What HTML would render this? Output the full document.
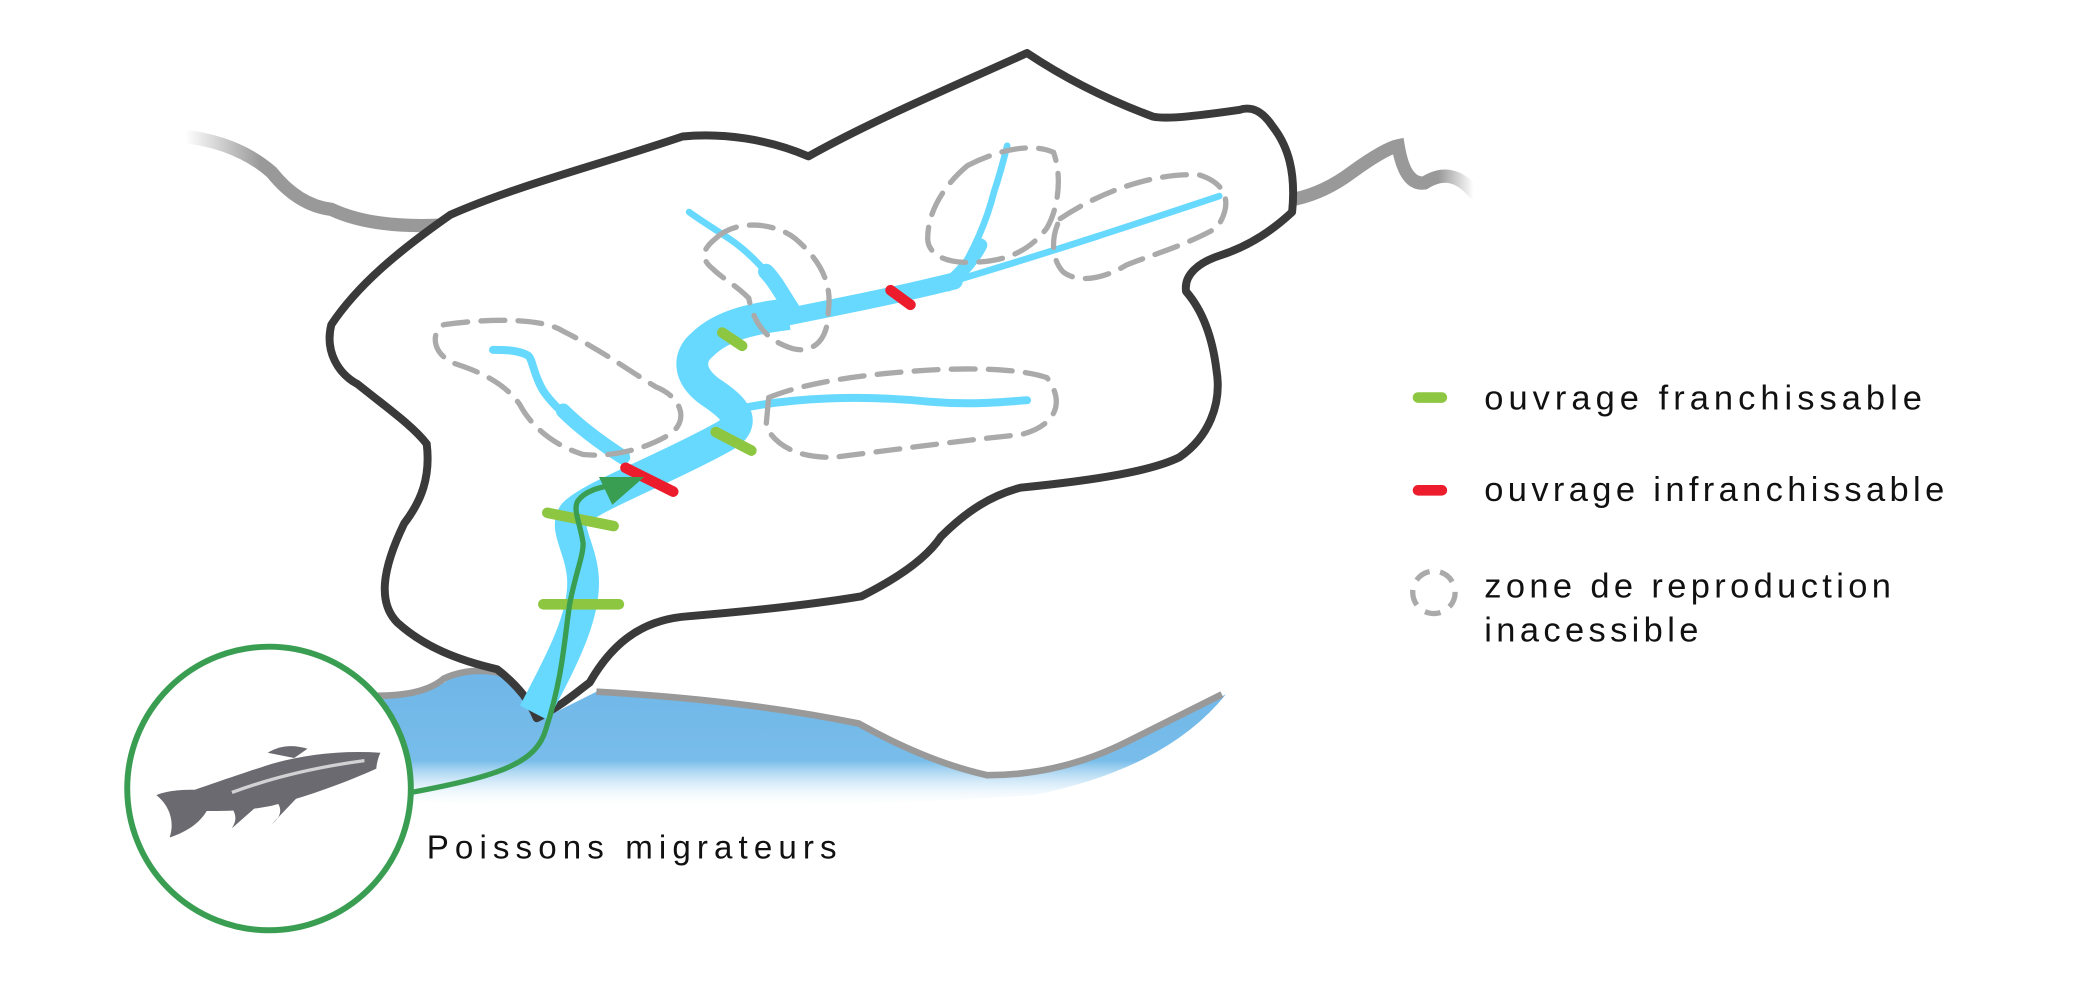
<!DOCTYPE html>
<html><head><meta charset="utf-8"><style>
html,body{margin:0;padding:0;background:#fff;}
svg{display:block;}
text{font-family:"Liberation Sans",sans-serif;fill:#111;}
</style></head><body>
<svg width="2078" height="996" viewBox="0 0 1568 751.6" preserveAspectRatio="none" xmlns="http://www.w3.org/2000/svg">
<defs>
<linearGradient id="sea" x1="0" y1="0" x2="0" y2="1">
<stop offset="0" stop-color="#6fb6e8"/><stop offset="0.65" stop-color="#78bdea"/><stop offset="1" stop-color="#fff" stop-opacity="0"/>
</linearGradient>
<linearGradient id="fadeL" x1="0" y1="0" x2="1" y2="0">
<stop offset="0" stop-color="#999" stop-opacity="0"/><stop offset="0.3" stop-color="#999"/><stop offset="1" stop-color="#999"/>
</linearGradient>
<linearGradient id="fadeR" x1="0" y1="0" x2="1" y2="0">
<stop offset="0" stop-color="#999"/><stop offset="0.8" stop-color="#999"/><stop offset="1" stop-color="#999" stop-opacity="0"/>
</linearGradient>
</defs>
<!-- sea -->
<path d="M285,527 Q322,526 338,513 Q358,504 378,508 L410,542 L450,522 Q560,528 648,546 Q700,575 745,587 Q800,587 850,562 Q890,542 925,524 Q880,580 780,600 Q600,612 420,610 Q330,608 285,600 Z" fill="url(#sea)"/>
<path d="M285,525 Q320,525 335,512 Q355,503 378,508" fill="none" stroke="#999" stroke-width="5"/>
<path d="M450,522 Q560,528 648,546 Q700,575 745,585 Q800,585 850,560 Q890,540 922,524" fill="none" stroke="#999" stroke-width="5"/>
<!-- rivers outside -->
<path d="M140,103 Q180,108 205,130 Q225,155 250,158 Q280,172 330,170" fill="none" stroke="url(#fadeL)" stroke-width="10" stroke-linecap="round"/>
<path d="M978,150 Q1000,145 1020,130 Q1045,112 1055,110 Q1060,140 1075,138 Q1095,125 1112,145" fill="none" stroke="url(#fadeR)" stroke-width="10" stroke-linecap="round"/>
<!-- basin -->
<path d="M775,40 C720,65 660,90 610,118 C580,105 545,100 515,103 C450,125 390,140 340,162 C300,190 270,215 250,245 C245,265 255,282 270,290 C295,310 312,322 322,335 C325,360 318,378 305,395 C288,430 285,455 300,470 C320,488 345,498 375,505 C392,518 400,530 405,542 C425,532 438,520 445,515 C465,480 490,467 520,465 C580,460 620,455 650,450 C680,435 700,420 710,405 C730,385 748,374 770,368 C830,362 870,355 890,345 C912,330 922,305 918,280 C915,255 908,235 895,220 C893,207 905,198 920,193 C945,185 962,172 975,160 C978,130 972,110 960,95 C952,83 944,80 935,83 C900,88 880,90 870,88 C835,75 805,60 775,40 Z" fill="#fff" stroke="#3a3a3a" stroke-width="6" stroke-linejoin="round"/>
<!-- main river -->
<g fill="none" stroke="#67d9ff" stroke-linejoin="round">
<path d="M403,538 C420,505 440,470 440,440 C440,415 425,400 433,388 C445,375 500,355 545,330 C568,318 550,305 535,295 C518,282 520,268 530,260 C545,245 570,240 595,237" stroke-width="24"/>
<path d="M590,240 C640,230 680,222 720,212" stroke-width="13" stroke-linecap="round"/>
<path d="M720,212 C800,188 860,168 920,148" stroke-width="5" stroke-linecap="round"/>
<path d="M468,345 C440,325 420,310 410,295 C402,282 402,270 398,268 C390,264 380,264 372,264" stroke-width="6" stroke-linecap="round"/>
<path d="M470,345 C450,332 435,320 425,310" stroke-width="11" stroke-linecap="round"/>
<path d="M598,232 C580,205 565,190 550,180 C538,172 528,166 520,160" stroke-width="5" stroke-linecap="round"/>
<path d="M598,234 C590,222 585,212 578,205" stroke-width="12" stroke-linecap="round"/>
<path d="M720,212 C735,190 745,165 750,145 C755,130 758,118 760,110" stroke-width="5" stroke-linecap="round"/>
<path d="M715,215 C728,203 735,195 740,185" stroke-width="10" stroke-linecap="round"/>
<path d="M560,308 C600,300 650,298 700,303 C735,306 760,303 775,302" stroke-width="6" stroke-linecap="round"/>
</g>
<!-- dashed zones -->
<g fill="none" stroke="#aaa" stroke-width="4" stroke-dasharray="18,10" stroke-linecap="round">
<path d="M335,245 C370,240 410,240 425,250 C455,265 475,280 495,292 C515,300 520,318 505,328 C485,340 460,345 440,343 C415,335 400,320 392,305 C380,288 360,280 345,275 C325,268 325,250 335,245 Z"/>
<path d="M540,180 C555,165 585,168 600,180 C620,197 628,215 625,235 C625,260 610,268 595,262 C575,255 568,240 565,225 C555,215 545,210 538,203 C528,195 530,188 540,180 Z"/>
<path d="M730,125 C755,112 780,108 795,115 C802,135 798,158 790,172 C775,192 755,198 730,198 C710,198 700,190 700,180 C700,160 712,140 730,125 Z"/>
<path d="M800,165 C830,145 870,130 905,132 C930,140 928,158 918,172 C895,185 870,192 850,200 C830,212 812,213 802,205 C793,195 793,178 800,165 Z"/>
<path d="M580,300 C610,288 650,283 690,280 C730,277 770,278 790,285 C805,305 795,322 770,328 C720,333 670,340 630,345 C600,346 585,335 578,322 Z"/>
</g>
<!-- barriers -->
<g stroke-width="8" stroke-linecap="round">
<line x1="413" y1="387" x2="463" y2="397" stroke="#8dc641"/>
<line x1="410" y1="456" x2="467" y2="456" stroke="#8dc641"/>
<line x1="540" y1="326" x2="567" y2="340" stroke="#8dc641"/>
<line x1="545" y1="251" x2="560" y2="261" stroke="#8dc641"/>
<line x1="472" y1="353" x2="508" y2="371" stroke="#ec1c2c"/>
<line x1="672" y1="219" x2="687" y2="230" stroke="#ec1c2c"/>
</g>
<!-- green arrow -->
<path d="M310,598 C380,585 405,575 412,550 C425,510 426,480 430,455 C435,430 440,420 440,410 C438,395 432,385 436,378 C442,370 452,368 462,366" fill="none" stroke="#3a9e52" stroke-width="4"/>
<polygon points="486,360 452,360 462,381" fill="#3a9e52"/>
<!-- circle -->
<circle cx="203" cy="595" r="107" fill="#fff" stroke="#3a9e52" stroke-width="4.5"/>
<!-- fish -->
<g fill="#6a6a70">
<path d="M147,596 C170,588 185,583 200,578 C225,570 255,566 287,568 C284,575 284,580 284,580 C262,590 235,600 205,608 C185,612 170,612 156,612 C150,622 140,628 128,632 C132,620 128,608 118,600 C128,596 140,596 147,596 Z"/>
<path d="M202,568 C212,562 222,562 232,565 L222,572 Z"/>
<path d="M172,606 C180,615 178,620 175,625 L192,610 Z"/>
<path d="M208,604 C215,612 210,618 205,622 L226,600 Z"/>
</g>
<path d="M175,598 C210,585 245,578 275,574" stroke="#fff" stroke-width="2.5" fill="none" opacity="0.7"/>
<text x="322" y="648" font-size="25" letter-spacing="4.6">Poissons migrateurs</text>
<!-- legend -->
<line x1="1070" y1="300" x2="1088" y2="300" stroke="#8dc641" stroke-width="8" stroke-linecap="round"/>
<text x="1120" y="309" font-size="26" letter-spacing="3.8">ouvrage franchissable</text>
<line x1="1070" y1="370" x2="1088" y2="370" stroke="#ec1c2c" stroke-width="8" stroke-linecap="round"/>
<text x="1120" y="378" font-size="26" letter-spacing="3.3">ouvrage infranchissable</text>
<circle cx="1082" cy="447" r="16" fill="none" stroke="#aaa" stroke-width="4" stroke-dasharray="12,8"/>
<text x="1120" y="451" font-size="26" letter-spacing="3.3">zone de reproduction</text>
<text x="1120" y="484" font-size="26" letter-spacing="3.3">inacessible</text>
</svg>
</body></html>
